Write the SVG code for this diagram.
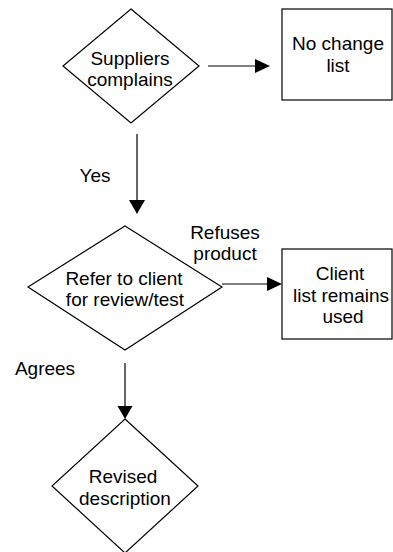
<svg xmlns="http://www.w3.org/2000/svg" width="393" height="552" viewBox="0 0 393 552">
<defs>
<style>
.shape{fill:#fff;stroke:#000;stroke-width:1.2}
.line{fill:none;stroke:#000;stroke-width:1.2}
.head{fill:#000;stroke:none}
text{font-family:"Liberation Sans",Arial,sans-serif;font-size:19px;fill:#000;text-anchor:middle}
</style>
</defs>
<rect width="393" height="552" fill="#fff"/>
<g id="suppliers-complains">
<polygon class="shape" points="131,9 199,66 131,123 63,66"/>
<text x="130" y="65">Suppliers</text>
<text x="130" y="86">complains</text>
</g>
<g id="no-change-list">
<rect class="shape" x="282" y="9" width="110" height="91"/>
<text x="338" y="50">No change</text>
<text x="338" y="72">list</text>
</g>
<g id="refer-to-client">
<polygon class="shape" points="125,226 222,287 125,350 28,287"/>
<text x="124" y="285">Refer to client</text>
<text x="125" y="306">for review/test</text>
</g>
<g id="client-list-remains">
<rect class="shape" x="282" y="249" width="110" height="90"/>
<text x="340" y="280">Client</text>
<text x="341" y="302">list remains</text>
<text x="343" y="323">used</text>
</g>
<g id="revised-description">
<polygon class="shape" points="125,419 198,486 125,553 52,486"/>
<text x="123" y="483">Revised</text>
<text x="125" y="505">description</text>
</g>
<g id="connectors">
<line class="line" x1="208" y1="66" x2="256" y2="66"/>
<polygon class="head" points="255,59 270,66 255,73"/>
<line class="line" x1="137" y1="134" x2="137" y2="201"/>
<polygon class="head" points="129,200 145,200 137,214"/>
<line class="line" x1="222" y1="284" x2="268" y2="284"/>
<polygon class="head" points="267,277 282,284 267,291"/>
<line class="line" x1="125" y1="363" x2="125" y2="407"/>
<polygon class="head" points="117.5,406 132.5,406 125,419"/>
<text x="95" y="182">Yes</text>
<text x="225" y="239">Refuses</text>
<text x="225" y="260">product</text>
<text x="45" y="375">Agrees</text>
</g>
</svg>
